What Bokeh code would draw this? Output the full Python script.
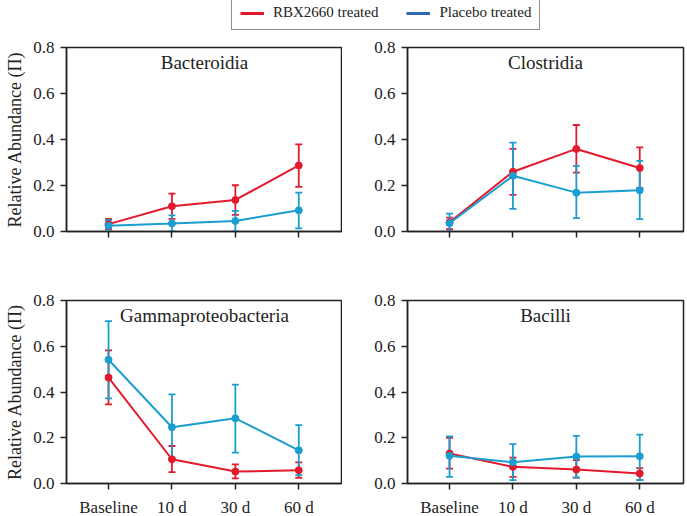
from bokeh.plotting import figure
from bokeh.layouts import column, row
from bokeh.models import (ColumnDataSource, Whisker, TeeHead, Range1d, FixedTicker,
                          Label, Legend, LegendItem)
from bokeh.embed import file_html
from bokeh.resources import INLINE

# ---------------- data ----------------
timepoints = ["Baseline", "10 d", "30 d", "60 d"]
y_ticks = [0.0, 0.2, 0.4, 0.6, 0.8]

panel_names = ["Bacteroidia", "Clostridia", "Gammaproteobacteria", "Bacilli"]

bact_rbx_mean = [0.032, 0.110, 0.137, 0.287]
bact_rbx_lo = [0.010, 0.055, 0.072, 0.194]
bact_rbx_hi = [0.055, 0.165, 0.201, 0.379]
bact_pla_mean = [0.025, 0.035, 0.046, 0.092]
bact_pla_lo = [0.000, 0.000, 0.000, 0.014]
bact_pla_hi = [0.050, 0.070, 0.090, 0.169]

clos_rbx_mean = [0.040, 0.260, 0.359, 0.276]
clos_rbx_lo = [0.010, 0.159, 0.256, 0.190]
clos_rbx_hi = [0.060, 0.359, 0.463, 0.366]
clos_pla_mean = [0.036, 0.242, 0.169, 0.179]
clos_pla_lo = [0.000, 0.098, 0.058, 0.054]
clos_pla_hi = [0.078, 0.386, 0.285, 0.307]

gamma_rbx_mean = [0.463, 0.106, 0.052, 0.058]
gamma_rbx_lo = [0.346, 0.050, 0.022, 0.025]
gamma_rbx_hi = [0.582, 0.164, 0.084, 0.092]
gamma_pla_mean = [0.541, 0.246, 0.285, 0.145]
gamma_pla_lo = [0.372, 0.106, 0.135, 0.036]
gamma_pla_hi = [0.710, 0.390, 0.432, 0.255]

baci_rbx_mean = [0.131, 0.073, 0.061, 0.044]
baci_rbx_lo = [0.065, 0.029, 0.026, 0.015]
baci_rbx_hi = [0.200, 0.113, 0.102, 0.067]
baci_pla_mean = [0.121, 0.093, 0.118, 0.119]
baci_pla_lo = [0.029, 0.015, 0.026, 0.015]
baci_pla_hi = [0.206, 0.172, 0.208, 0.214]

series_labels = ["RBX2660 treated", "Placebo treated"]

# ---------------- style ----------------
RED = "#e31a2d"
BLUE = "#1a9ed0"
LEGEND_BLUE = "#2d68b0"
FONT = "Liberation Serif"
INK = "#222222"

X_LO, X_HI = -0.663, 3.69
Y_LO, Y_HI = 0.0, 0.8

panels = [
    (bact_rbx_mean, bact_rbx_lo, bact_rbx_hi, bact_pla_mean, bact_pla_lo, bact_pla_hi),
    (clos_rbx_mean, clos_rbx_lo, clos_rbx_hi, clos_pla_mean, clos_pla_lo, clos_pla_hi),
    (gamma_rbx_mean, gamma_rbx_lo, gamma_rbx_hi, gamma_pla_mean, gamma_pla_lo, gamma_pla_hi),
    (baci_rbx_mean, baci_rbx_lo, baci_rbx_hi, baci_pla_mean, baci_pla_lo, baci_pla_hi),
]


def make_panel(idx, name, data):
    left = idx % 2 == 0
    top = idx < 2
    p = figure(
        output_backend="svg", toolbar_location=None,
        frame_width=276 if left else 276,
        frame_height=184 if top else 183,
        x_range=Range1d(X_LO, X_HI), y_range=Range1d(Y_LO, Y_HI),
        min_border_left=66 if left else 65,
        min_border_right=0 if left else 3,
        min_border_top=9 if top else 10,
        min_border_bottom=59 if top else 33,
        background_fill_color="white", border_fill_color="white",
    )
    p.xgrid.visible = False
    p.ygrid.visible = False
    p.outline_line_color = INK
    p.outline_line_width = 1.5

    xs = list(range(len(timepoints)))
    p.xaxis.ticker = FixedTicker(ticks=xs)
    p.xaxis.major_label_overrides = {i: t for i, t in enumerate(timepoints)}
    p.yaxis.ticker = FixedTicker(ticks=y_ticks)
    p.yaxis.major_label_overrides = {v: f"{v:.1f}" for v in y_ticks}

    for ax in (p.xaxis[0], p.yaxis[0]):
        ax.axis_line_color = INK
        ax.axis_line_width = 1.5
        ax.major_tick_line_color = INK
        ax.major_tick_line_width = 1.5
        ax.major_tick_out = 6
        ax.major_tick_in = 0
        ax.minor_tick_line_color = None
        ax.major_label_text_font = FONT
        ax.major_label_text_color = INK
    p.yaxis.major_label_text_font_size = "17px"
    p.yaxis.major_label_standoff = 6
    p.xaxis.major_label_text_font_size = "17px"
    p.xaxis.major_label_standoff = 8
    if top:
        p.xaxis.major_label_text_color = None
    if left:
        p.yaxis.axis_label = "Relative Abundance (Π)"
        p.yaxis.axis_label_text_font = FONT
        p.yaxis.axis_label_text_font_size = "18px"
        p.yaxis.axis_label_text_font_style = "normal"
        p.yaxis.axis_label_text_color = INK
        p.yaxis.axis_label_standoff = 5

    rm, rl, rh, bm, bl, bh = data
    for mean, lo, hi, col in ((rm, rl, rh, RED), (bm, bl, bh, BLUE)):
        src = ColumnDataSource(dict(x=xs, y=mean, lo=lo, hi=hi))
        p.line("x", "y", source=src, line_color=col, line_width=2)
        w = Whisker(source=src, base="x", lower="lo", upper="hi",
                    line_color=col, line_width=1.8,
                    upper_head=TeeHead(size=7, line_color=col, line_width=1.8),
                    lower_head=TeeHead(size=7, line_color=col, line_width=1.8))
        p.add_layout(w)
        p.scatter("x", "y", source=src, marker="circle", size=7,
                  fill_color=col, line_color=col)

    title = Label(x=(X_LO + X_HI) / 2, y=Y_HI, y_offset=-4, text=name,
                  text_font=FONT, text_font_size="19px", text_color=INK,
                  text_align="center", text_baseline="top")
    p.add_layout(title)
    return p


figs = [make_panel(i, n, d) for i, (n, d) in enumerate(zip(panel_names, panels))]

# ---------------- legend strip ----------------
# legend-only figure: its series lines sit outside the visible y range,
# so only their legend glyphs show
lg = figure(output_backend="svg", toolbar_location=None, width=687, height=38,
            x_axis_type=None, y_axis_type=None, min_border=0,
            x_range=Range1d(0, 1), y_range=Range1d(5, 6),
            outline_line_color=None, background_fill_color="white",
            border_fill_color="white")
lg.xgrid.visible = False
lg.ygrid.visible = False
xs_all = list(range(len(timepoints)))
r1 = lg.line(xs_all, bact_rbx_mean, line_color=RED, line_width=3)
r2 = lg.line(xs_all, bact_pla_mean, line_color=LEGEND_BLUE, line_width=3)
legend = Legend(items=[LegendItem(label=series_labels[0], renderers=[r1]),
                       LegendItem(label=series_labels[1], renderers=[r2])],
                orientation="horizontal", location=(231, 8),
                label_text_font=FONT, label_text_font_size="15px",
                label_text_color=INK,
                glyph_width=24, glyph_height=14, label_standoff=9, spacing=28,
                padding=8, margin=0, border_line_color=INK,
                border_line_width=1.5, background_fill_color="white")
lg.add_layout(legend)

layout = column(lg, row(figs[0], figs[1]), row(figs[2], figs[3]))

open("out.html", "w").write(file_html(layout, INLINE))
